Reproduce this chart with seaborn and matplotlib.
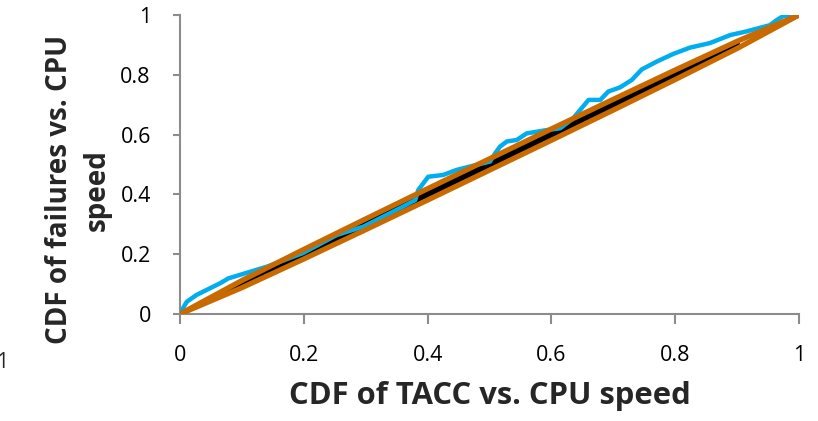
import numpy as np
import pandas as pd
import matplotlib
matplotlib.use("Agg")
import matplotlib.pyplot as plt
import seaborn as sns

# Observed CDF (blue)
blue_x = [0.0, 0.003, 0.011, 0.027, 0.065, 0.078, 0.113, 0.14, 0.199, 0.253, 0.296, 0.36, 0.38,
          0.385, 0.401, 0.425, 0.447, 0.468, 0.501, 0.509, 0.517, 0.528, 0.544, 0.56, 0.592,
          0.614, 0.635, 0.66, 0.679, 0.692, 0.711, 0.73, 0.746, 0.77, 0.797, 0.824, 0.856,
          0.889, 0.915, 0.953, 0.964, 0.975, 1.0]
blue_y = [0.0, 0.013, 0.041, 0.064, 0.103, 0.119, 0.141, 0.158, 0.204, 0.264, 0.292, 0.359, 0.381,
          0.415, 0.459, 0.465, 0.482, 0.493, 0.51, 0.537, 0.56, 0.577, 0.582, 0.604, 0.615,
          0.621, 0.654, 0.716, 0.716, 0.744, 0.758, 0.783, 0.818, 0.844, 0.87, 0.891, 0.906,
          0.933, 0.945, 0.966, 0.983, 0.997, 1.0]

# Reference diagonal (black)
black_x = [0.05, 0.9]
black_y = [0.05, 0.9]

# Bounds (orange)
bound_x = [0.0, 0.1, 0.2, 0.3, 0.4, 0.5, 0.6, 0.7, 0.8, 0.9, 1.0]
upper_y = [0.0, 0.112, 0.216, 0.318, 0.419, 0.519, 0.619, 0.718, 0.816, 0.912, 1.0]
lower_y = [0.0, 0.088, 0.184, 0.282, 0.381, 0.481, 0.581, 0.682, 0.784, 0.888, 1.0]

x_ticks = [0, 0.2, 0.4, 0.6, 0.8, 1]
x_ticklabels = ["0", "0.2", "0.4", "0.6", "0.8", "1"]
y_ticks = [0, 0.2, 0.4, 0.6, 0.8, 1]
y_ticklabels = ["0", "0.2", "0.4", "0.6", "0.8", "1"]

sns.set_theme(style="white")
plt.rcParams['font.family'] = ['Open Sans', 'DejaVu Sans']

fig = plt.figure(figsize=(8.18, 4.21), dpi=100)
ax = fig.add_axes([180/818, 1 - 314/421, (799-180)/818, (314-15)/421])

df_black = pd.DataFrame({"x": black_x, "y": black_y})
df_blue = pd.DataFrame({"x": blue_x, "y": blue_y})
df_up = pd.DataFrame({"x": bound_x, "y": upper_y})
df_lo = pd.DataFrame({"x": bound_x, "y": lower_y})

sns.lineplot(data=df_black, x="x", y="y", ax=ax, color="black", linewidth=4.5, sort=False, zorder=2)
sns.lineplot(data=df_blue, x="x", y="y", ax=ax, color="#00AEEF", linewidth=3.2, sort=False, zorder=3)
sns.lineplot(data=df_up, x="x", y="y", ax=ax, color="#C86A00", linewidth=3.8, sort=False, zorder=4)
sns.lineplot(data=df_lo, x="x", y="y", ax=ax, color="#C86A00", linewidth=3.8, sort=False, zorder=4)

ax.set_xlim(0, 1)
ax.set_ylim(0, 1)
ax.set_xticks(x_ticks)
ax.set_xticklabels(x_ticklabels)
ax.set_yticks(y_ticks)
ax.set_yticklabels(y_ticklabels)
for s in ["top", "right"]:
    ax.spines[s].set_visible(False)
for s in ["left", "bottom"]:
    ax.spines[s].set_color("#8c8c8c")
    ax.spines[s].set_linewidth(1.5)
ax.tick_params(axis="x", direction="out", length=7, width=1.5, color="#8c8c8c",
               labelsize=15.5, pad=15, labelcolor="black", bottom=True)
ax.tick_params(axis="y", direction="out", length=5, width=1.5, color="#8c8c8c",
               labelsize=15.5, pad=16, labelcolor="black", left=True)
ax.set_xlabel("CDF of TACC vs. CPU speed", fontsize=22.3, fontweight="bold", labelpad=11)
ax.set_ylabel("CDF of failures vs. CPU\nspeed", fontsize=20, fontweight="bold",
              linespacing=1.4)
ax.yaxis.set_label_coords(-0.11, 0.415)
for sp in ax.spines.values():
    sp.set_clip_on(False)

# remnant of neighbouring chart at the left edge
fig.text(-4/818, 1 - 362/421, "1", fontsize=15.5, ha="left", va="center")

fig.savefig("out.png", dpi=100)
